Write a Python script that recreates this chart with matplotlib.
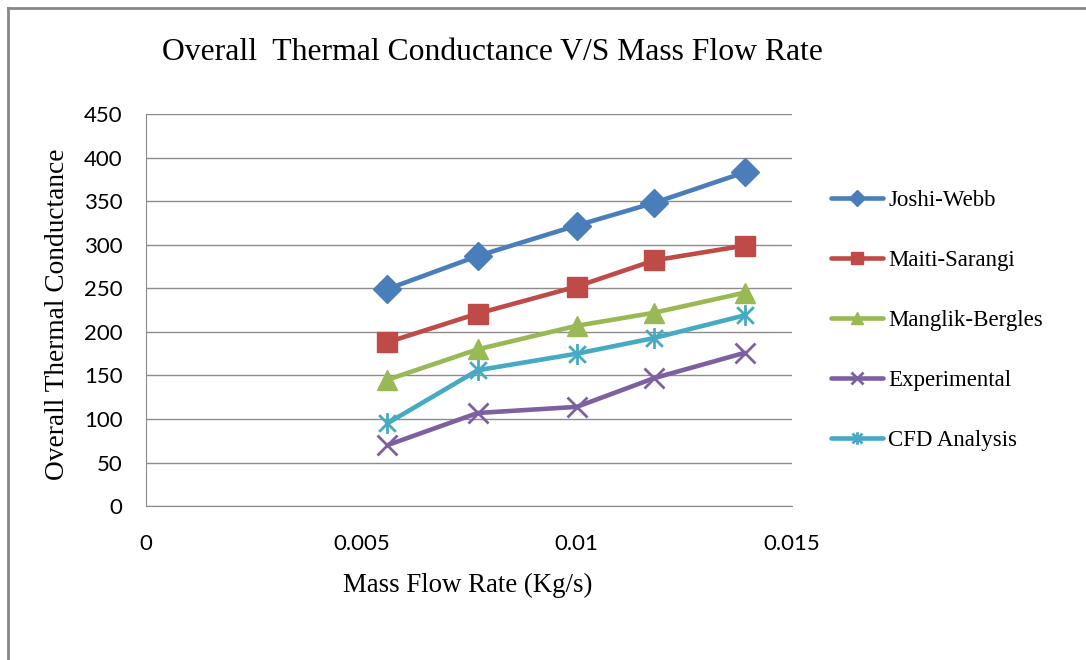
import matplotlib.pyplot as plt
from matplotlib.lines import Line2D
from matplotlib.path import Path

# data
mass_flow = [0.0056, 0.0077, 0.0100, 0.0118, 0.0139]
joshi_webb = [249, 287, 322, 348, 383]
maiti_sarangi = [188, 221, 252, 282, 299]
manglik_bergles = [145, 180, 207, 222, 245]
experimental = [70, 107, 114, 147, 176]
cfd_analysis = [95, 156, 175, 193, 219]

# Excel-like star marker: vertical bar plus an X
star = Path([(0, -1), (0, 1), (-0.8, -0.8), (0.8, 0.8), (-0.8, 0.8), (0.8, -0.8)],
            [Path.MOVETO, Path.LINETO] * 3)

series = [
    ("Joshi-Webb", joshi_webb, "#4A7EBB", "D", 14),
    ("Maiti-Sarangi", maiti_sarangi, "#BE4B48", "s", 14.5),
    ("Manglik-Bergles", manglik_bergles, "#98B954", "^", 15),
    ("Experimental", experimental, "#7D60A0", "x", 14),
    ("CFD Analysis", cfd_analysis, "#46AAC5", star, 15),
]

serif = ["Liberation Serif", "DejaVu Serif"]
sans = ["Lato", "DejaVu Sans"]

fig = plt.figure(figsize=(10.86, 6.6), dpi=100)
ax = fig.add_axes([0.1344, 0.2329, 0.7293 - 0.1344, 0.8274 - 0.2329])

for name, vals, col, mk, ms in series:
    if isinstance(mk, Path) or mk == "x":
        ax.plot(mass_flow, vals, color=col, lw=3.3, marker=mk, ms=ms, mew=2,
                mfc="none", label=name, solid_capstyle="round")
    else:
        ax.plot(mass_flow, vals, color=col, lw=3.3, marker=mk, ms=ms,
                label=name, solid_capstyle="round")

ax.set_xlim(0, 0.015)
ax.set_ylim(0, 450)
ax.set_xticks([0, 0.005, 0.01, 0.015])
ax.set_xticklabels(["0", "0.005", "0.01", "0.015"])
ax.set_yticks(range(0, 451, 50))
ax.grid(axis="y", color="#8C8C8C", lw=1)
ax.set_axisbelow(True)
for s in ["top", "right"]:
    ax.spines[s].set_visible(False)
ax.spines["left"].set_color("#8C8C8C")
ax.spines["bottom"].set_color("#8C8C8C")
ax.tick_params(length=0, labelsize=16)
ax.tick_params(axis="y", pad=17)
ax.tick_params(axis="x", pad=20)
for lab in ax.get_xticklabels() + ax.get_yticklabels():
    lab.set_family(sans)

fig.text(0.431, 0.1136, "Mass Flow Rate (Kg/s)", family=serif, fontsize=19.4,
         ha="center", va="center")
fig.text(0.0525, 0.524, "Overall Thermal Conductance", family=serif, fontsize=19.7,
         ha="center", va="center", rotation=90)
fig.text(0.453, 0.921, "Overall  Thermal Conductance V/S Mass Flow Rate",
         family=serif, fontsize=22.8, ha="center", va="center")

leg = fig.legend(loc="upper left", bbox_to_anchor=(0.746, 0.744), frameon=False,
                 prop={"family": serif, "size": 16.5}, handlelength=2.3,
                 labelspacing=1.7, handletextpad=0.2, markerscale=0.6)

# chart border (top and left visible)
fig.add_artist(Line2D([0.0074, 1.0], [0.988, 0.988], transform=fig.transFigure,
                      color="#888888", lw=2))
fig.add_artist(Line2D([0.0074, 0.0074], [0.0, 0.988], transform=fig.transFigure,
                      color="#888888", lw=2))

fig.savefig("out.png", dpi=100)
